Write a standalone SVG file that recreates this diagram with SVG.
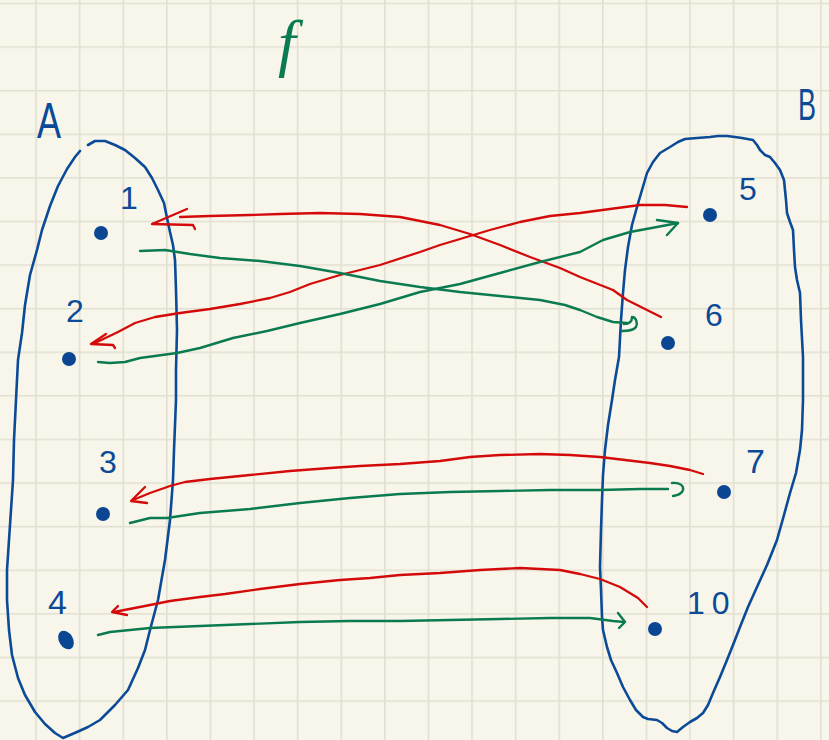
<svg xmlns="http://www.w3.org/2000/svg" width="829" height="740" viewBox="0 0 829 740">
<defs>
<pattern id="grid" patternUnits="userSpaceOnUse" x="35.2" y="2.7" width="43.6" height="43.6">
<path d="M0.8 0V43.6M0 0.8H43.6" stroke="#e1dfd1" stroke-width="1.6" fill="none"/>
</pattern>
<style>
.set{fill:none;stroke:#0b4a97;stroke-width:2.6;stroke-linejoin:round;stroke-linecap:round}
.dot{fill:#0b4693}
.lbl{fill:#0b4a97;font-family:"Liberation Sans",Arial,sans-serif}
.red{fill:none;stroke:#d40a0a;stroke-width:2.3;stroke-linejoin:round;stroke-linecap:round}
.grn{fill:none;stroke:#0a7a50;stroke-width:2.4;stroke-linejoin:round;stroke-linecap:round}
</style>
</defs>
<rect width="829" height="740" fill="#f8f6ea"/>
<rect width="829" height="740" fill="url(#grid)"/>

<g id="setA">
<path class="set" d="M88,145 L95,141 L105,141 L115,145 L125,150 L135,158 L145,167 L152,178 L158,190 L164,203 L167,218 L170,232 L173,245 L175,260 L176,290 L177,330 L176,370 L176,400 L174,450 L173,480 L170,520 L165,560 L158,600 L150,630 L145,650 L138,668 L128,690 L115,705 L100,720 L88,727 L77,732 L63,738 L55,733 L45,724 L35,712 L25,695 L18,678 L12,655 L9,630 L7,600 L7,570 L9,540 L11,510 L13,480 L14,440 L16,400 L18,360 L22,333 L25,305 L30,275 L37,250 L42,230 L50,206 L58,186 L67,169 L75,157 L80,151"/>
<text class="lbl" x="37" y="138" font-size="50" textLength="24" lengthAdjust="spacingAndGlyphs">A</text>
</g>

<g id="setB">
<path class="set" d="M612,400 L615,380 L619,357 L621,320 L623,293 L625,270 L628,247 L632,225 L637,207 L642,190 L647,173 L653,162 L660,153 L670,147 L678,142 L685,139 L697,138 L710,137 L718,136 L727,136 L735,137 L742,138 L753,140 L757,145 L760,150 L765,155 L770,157 L775,163 L780,170 L784,180 L785,190 L786,200 L787,213 L790,222 L793,230 L794,250 L795,267 L797,280 L800,293 L801,320 L803,357 L803,400 L802,430 L800,450 L796,473 L790,493 L784,515 L777,540 L767,565 L757,587 L748,607 L740,627 L733,645 L727,660 L720,677 L713,693 L708,705 L703,713 L697,718 L690,722 L683,727 L677,732 L672,731 L667,728 L662,723 L657,720 L648,719 L643,717 L636,710 L630,700 L623,687 L617,673 L611,660 L607,647 L603,630 L602,617 L601,590 L600,567 L601,530 L602,500 L603,475 L605,450 L608,425 Z"/>
<text class="lbl" x="798" y="120" font-size="44" textLength="18" lengthAdjust="spacingAndGlyphs">B</text>
</g>

<text x="278" y="64" font-size="64" font-style="italic" fill="#0a7a50" font-family="'Liberation Serif','Times New Roman',serif">f</text>

<g id="n1"><circle class="dot" cx="101" cy="233" r="7"/><text class="lbl" x="120" y="209" font-size="32">1</text></g>
<g id="n2"><circle class="dot" cx="69" cy="359" r="7"/><text class="lbl" x="66" y="322" font-size="32">2</text></g>
<g id="n3"><circle class="dot" cx="103" cy="514" r="7"/><text class="lbl" x="99" y="473" font-size="32">3</text></g>
<g id="n4"><ellipse class="dot" cx="66" cy="640" rx="7" ry="10" transform="rotate(-30 66 640)"/><text class="lbl" x="48" y="614" font-size="34">4</text></g>
<g id="n5"><circle class="dot" cx="710" cy="215" r="7"/><text class="lbl" x="739" y="200" font-size="32">5</text></g>
<g id="n6"><circle class="dot" cx="668" cy="343" r="7"/><text class="lbl" x="705" y="326" font-size="32">6</text></g>
<g id="n7"><circle class="dot" cx="724" cy="492" r="7"/><text class="lbl" x="746" y="473" font-size="34">7</text></g>
<g id="n10"><circle class="dot" cx="655" cy="629" r="7"/><text class="lbl" x="687" y="614" font-size="32" letter-spacing="7">10</text></g>

<g id="connectors">
<path class="red" d="M661,317 L647,310 L627,300 L613,290 L580,277 L560,268 L530,257 L500,245 L470,234 L440,225 L400,217 L360,214 L320,213 L280,214 L250,215 L210,216 L180,217"/>
<path class="red" d="M187,209 L152,224 L193,225 L195,229"/>

<path class="red" d="M687,207 L665,205 L640,205 L610,209 L580,213 L550,216 L520,222 L490,230 L470,236 L440,245 L420,252 L380,265 L340,275 L310,284 L290,292 L270,298 L240,304 L210,309 L180,313 L155,317 L135,323 L118,332 L95,343"/>
<path class="red" d="M106,334 L91,344 L113,345 L115,348"/>

<path class="red" d="M703,474 L690,470 L670,466 L650,463 L625,460 L600,457 L570,455 L540,454 L500,455 L470,457 L440,461 L400,464 L360,466 L330,468 L290,471 L250,475 L210,479 L185,482 L170,486 L150,493 L133,500"/>
<path class="red" d="M145,487 L131,501 L147,503"/>

<path class="red" d="M647,607 L638,598 L620,587 L600,579 L580,574 L560,570 L520,568 L480,570 L440,573 L400,575 L370,578 L340,580 L300,584 L260,589 L225,594 L200,597 L170,601 L145,606 L114,612"/>
<path class="red" d="M118,606 L112,612 L127,615"/>

<path class="grn" d="M140,251 L165,250 L190,254 L220,258 L260,261 L300,266 L340,273 L380,281 L420,287 L460,292 L500,296 L540,300 L565,305 L580,310 L597,317 L613,322 L627,323"/>
<path class="grn" d="M624,324 C629,324 632,322 632,317 C636,317 638,323 636,327 C634,330 628,331 622,331"/>

<path class="grn" d="M98,362 L110,363 L125,362 L140,358 L177,353 L200,348 L233,338 L267,331 L300,323 L340,314 L380,304 L420,292 L460,284 L500,273 L540,262 L580,252 L603,240 L630,232 L657,227 L678,223"/>
<path class="grn" d="M657,220 L678,223 L667,235"/>

<path class="grn" d="M130,523 L150,518 L167,518 L200,513 L250,509 L300,503 L350,498 L400,494 L450,492 L500,491 L550,490 L600,490 L640,489 L668,489"/>
<path class="grn" d="M672,483 C680,482 684,486 683,490 C682,494 678,495 673,496"/>

<path class="grn" d="M98,635 L110,632 L150,628 L200,626 L250,624 L300,622 L350,621 L400,621 L450,620 L500,619 L550,618 L590,618 L613,621 L624,622"/>
<path class="grn" d="M618,613 L625,622 L619,628"/>
</g>
</svg>
